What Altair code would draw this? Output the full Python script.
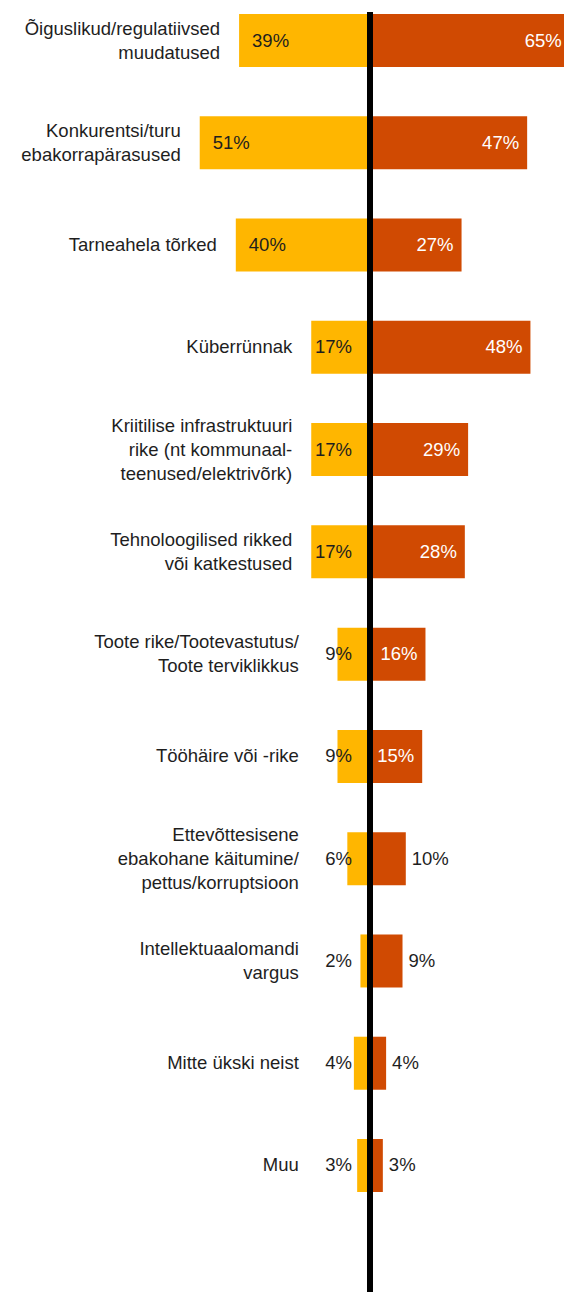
import altair as alt
import pandas as pd

labels = [
    "Õiguslikud/regulatiivsed|muudatused",
    "Konkurentsi/turu|ebakorrapärasused",
    "Tarneahela tõrked",
    "Küberrünnak",
    "Kriitilise infrastruktuuri|rike (nt kommunaal-|teenused/elektrivõrk)",
    "Tehnoloogilised rikked|või katkestused",
    "Toote rike/Tootevastutus/|Toote terviklikkus",
    "Tööhäire või -rike",
    "Ettevõttesisene|ebakohane käitumine/|pettus/korruptsioon",
    "Intellektuaalomandi|vargus",
    "Mitte ükski neist",
    "Muu",
]
left_vals = [39, 51, 40, 17, 17, 17, 9, 9, 6, 2, 4, 3]
right_vals = [65, 47, 27, 48, 29, 28, 16, 15, 10, 9, 4, 3]

df = pd.DataFrame({"label": labels, "left": left_vals, "right": right_vals})

FONT = "Liberation Sans"
FS = 18.5
LH = 24
YELLOW = "#FFB600"
ORANGE = "#D04A02"
DARK = "#1e1e1e"

ys = alt.Scale(paddingInner=0.4817, paddingOuter=0.0587)
y = alt.Y("label:N", sort=labels, axis=None, scale=ys)
xs = alt.Scale(domain=[-110.37, 59.15], nice=False, zero=False)

base = alt.Chart(df).transform_calculate(
    neg="-datum.left",
    zero="0",
    lines="split(datum.label, '|')",
    nlines="length(split(datum.label, '|'))",
    catx="min(-datum.left, -15)",
    rx="min(datum.right, 60)",
    lefttxt="datum.left + '%'",
    righttxt="datum.right + '%'",
)

yellow = base.mark_bar(color=YELLOW, xOffset=-3, x2Offset=-3).encode(
    x=alt.X("neg:Q", scale=xs, axis=None), x2="zero:Q", y=y
)
orange = base.mark_bar(color=ORANGE, xOffset=3, x2Offset=3).encode(
    x=alt.X("right:Q", scale=xs, axis=None), x2="zero:Q", y=y
)

txt = dict(font=FONT, fontSize=FS, baseline="middle")

cat_layers = []
for n in (1, 2, 3):
    cat_layers.append(
        base.transform_filter(f"datum.nlines == {n}")
        .mark_text(align="right", dx=-22, dy=-(n - 1) * LH / 2, lineHeight=LH, color=DARK, **txt)
        .encode(x=alt.X("catx:Q", scale=xs), y=y, text="lines:N")
    )

left_in = base.transform_filter("datum.left >= 30").mark_text(
    align="left", dx=10, color=DARK, **txt
).encode(x=alt.X("neg:Q", scale=xs), y=y, text="lefttxt:N")
left_out = base.transform_filter("datum.left < 30").mark_text(
    align="right", dx=-18, color=DARK, **txt
).encode(x=alt.X("zero:Q", scale=xs), y=y, text="lefttxt:N")

right_in = base.transform_filter("datum.right >= 15").mark_text(
    align="right", dx=-5, color="white", **txt
).encode(x=alt.X("rx:Q", scale=xs), y=y, text="righttxt:N")
right_out = base.transform_filter("datum.right < 15").mark_text(
    align="left", dx=9, color=DARK, **txt
).encode(x=alt.X("right:Q", scale=xs), y=y, text="righttxt:N")

rule = alt.Chart(pd.DataFrame({"zero": [0]})).mark_rule(color="black", strokeWidth=6).encode(
    x=alt.X("zero:Q", scale=xs), y=alt.value(4), y2=alt.value(1284)
)

chart = (
    alt.layer(yellow, orange, *cat_layers, left_in, left_out, right_in, right_out, rule)
    .properties(
        width=556,
        height=1190,
        autosize=alt.AutoSizeParams(type="none"),
        padding={"left": 0, "top": 0, "right": 0, "bottom": 94},
    )
    .configure_view(stroke=None)
)

chart.save("out.html", embed_options={"renderer": "svg", "actions": False})
